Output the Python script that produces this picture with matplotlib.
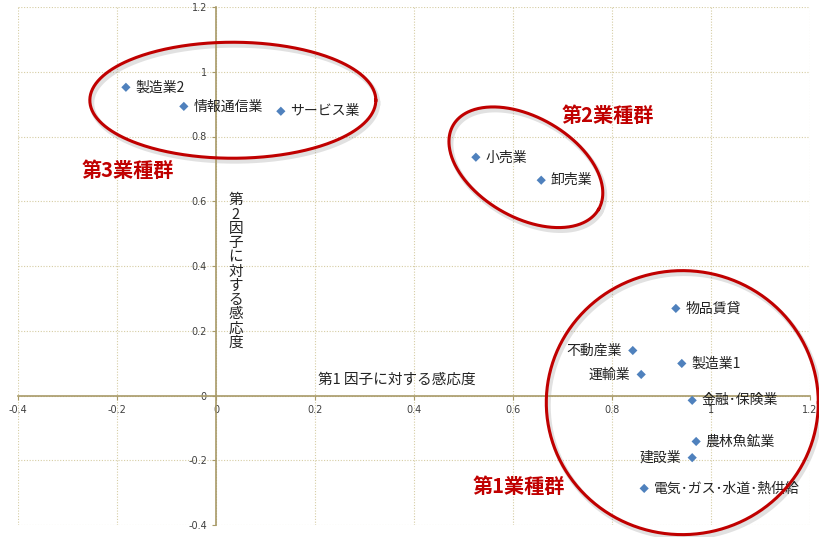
import matplotlib.pyplot as plt
import numpy as np

plt.rcParams['font.family'] = ['Noto Sans CJK JP', 'DejaVu Sans']

# factor sensitivities per industry
industries = ['製造業2', '情報通信業', 'サービス業', '小売業', '卸売業',
              '物品賃貸', '不動産業', '製造業1', '運輸業', '金融･保険業',
              '農林魚鉱業', '建設業', '電気･ガス･水道･熱供給']
factor1 = [-0.182, -0.065, 0.131, 0.525, 0.657,
           0.929, 0.842, 0.941, 0.859, 0.962,
           0.970, 0.962, 0.865]
factor2 = [0.952, 0.893, 0.878, 0.736, 0.665,
           0.269, 0.139, 0.099, 0.065, -0.015,
           -0.142, -0.192, -0.287]
label_left = ['不動産業', '運輸業', '建設業']

ticks = [-0.4, -0.2, 0, 0.2, 0.4, 0.6, 0.8, 1, 1.2]
tick_labels = ['-0.4', '-0.2', '0', '0.2', '0.4', '0.6', '0.8', '1', '1.2']

# industry groups: name, label position, ellipse centre, semi-axes (px), tilt
group_names = ['第1業種群', '第2業種群', '第3業種群']
group_label_xy = [(0.612, -0.28), (0.792, 0.865), (-0.178, 0.695)]
group_centre = [(0.942, -0.022), (0.626, 0.705), (0.034, 0.912)]
group_axes_px = [(136, 132), (84, 50), (143, 58)]
group_tilt = [0, -30, 0]

fig = plt.figure(figsize=(8.19, 5.37), dpi=100)
ax = fig.add_axes([18 / 819, 12 / 537, 792 / 819, 518 / 537])
ax.set_xlim(-0.4, 1.2)
ax.set_ylim(-0.4, 1.2)

axis_col = '#A89A68'
grid_col = '#D6CDA4'
ax.set_xticks(ticks)
ax.set_xticklabels(tick_labels)
ax.set_yticks(ticks)
ax.set_yticklabels(tick_labels)
ax.grid(True, color=grid_col, linestyle=(0, (1, 1.5)), linewidth=0.8)
ax.set_axisbelow(True)
for side in ['top', 'right']:
    ax.spines[side].set_visible(False)
for side in ['left', 'bottom']:
    ax.spines[side].set_position('zero')
    ax.spines[side].set_color(axis_col)
    ax.spines[side].set_linewidth(1.2)
ax.tick_params(axis='both', colors=axis_col, length=3, width=0.8,
               labelsize=7, labelcolor='#404040')
for lab in ax.get_xticklabels() + ax.get_yticklabels():
    lab.set_family('DejaVu Sans')

ax.scatter(factor1, factor2, marker='D', s=22, color='#4F81BD',
           edgecolors='none', zorder=4)
for name, x, y in zip(industries, factor1, factor2):
    if name in label_left:
        ax.annotate(name, (x, y), xytext=(-8, 0), textcoords='offset points',
                    ha='right', va='center', fontsize=10, color='#222222')
    else:
        ax.annotate(name, (x, y), xytext=(7, 0), textcoords='offset points',
                    ha='left', va='center', fontsize=10, color='#222222')

ax.text(0.366, 0.049, '第1 因子に対する感応度', fontsize=10.5,
        ha='center', va='center', color='#222222')
ax.text(0.04, 0.383, '\n'.join('第2因子に対する感応度'), fontsize=10.5,
        ha='center', va='center', color='#222222', linespacing=1.02)

# ellipses drawn in pixel space, converted back to data units
bbox = ax.get_window_extent()
sx = bbox.width / 1.6
sy = bbox.height / 1.6
t = np.linspace(0, 2 * np.pi, 400)
for (cx, cy), (a, b), ang in zip(group_centre, group_axes_px, group_tilt):
    th = np.radians(ang)
    px = a * np.cos(t) * np.cos(th) - b * np.sin(t) * np.sin(th)
    py = a * np.cos(t) * np.sin(th) + b * np.sin(t) * np.cos(th)
    ax.plot(cx + (px + 2) / sx, cy + (py - 3) / sy, color='#888888',
            alpha=0.25, linewidth=3.5, clip_on=False, zorder=2)
    ax.plot(cx + px / sx, cy + py / sy, color='#C00000', linewidth=2.2,
            clip_on=False, zorder=3)

for name, (x, y) in zip(group_names, group_label_xy):
    ax.text(x, y, name, fontsize=14.5, fontweight='bold', color='#C00000',
            ha='center', va='center')

fig.savefig('out.png', dpi=100)
